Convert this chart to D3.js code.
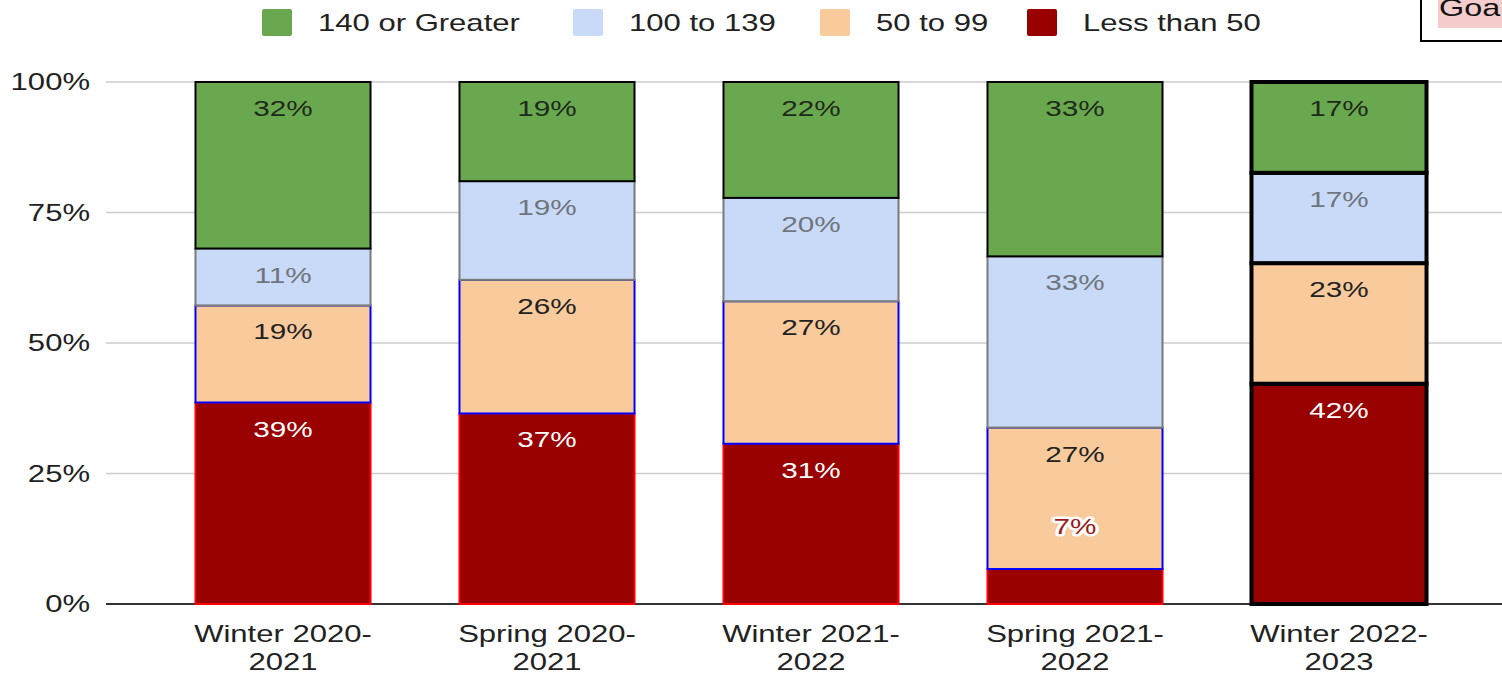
<!DOCTYPE html>
<html lang="en">
<head>
<meta charset="utf-8">
<script src="https://d3js.org/d3.v7.min.js"></script>
<style>
  body { margin: 0; background: #fff; }
  text { font-family: "Liberation Sans", Arial, sans-serif; }
</style>
</head>
<body>
<script>
// data (percent of each term)
var terms = [["Winter 2020-", "2021"], ["Spring 2020-", "2021"], ["Winter 2021-", "2022"],
             ["Spring 2021-", "2022"], ["Winter 2022-", "2023"]];
var seriesNames = ["Less than 50", "50 to 99", "100 to 139", "140 or Greater"];
var lessThan50 = [38.6, 36.5, 30.7, 6.7, 42.2];
var from50to99 = [18.6, 25.6, 27.3, 27.1, 23.1];
var from100to139 = [10.9, 18.9, 19.8, 32.8, 17.3];
var over140 = [31.9, 19.0, 22.2, 33.4, 17.4];
var yTicks = [0, 25, 50, 75, 100];

var fills = ["#990000", "#f9cb9c", "#c9daf8", "#6aa84f"];
var strokes = ["#ff0000", "#0000ff", "#7a7a7a", "#000000"];
var labelColors = ["#ffffff", "#222222", "#6f757c", "#1e2a1a"];

var W = 1502, H = 674;
var SX = 1.35; // the source picture is stretched sideways
var svg = d3.select("body").append("svg").attr("width", W).attr("height", H);

// text drawn at (x, y) and widened by SX around its anchor
function addText(parent, x, y) {
  return parent.append("text")
    .attr("transform", "translate(" + x + "," + y + ") scale(" + SX + ",1)");
}

var x = d3.scaleBand().domain(d3.range(terms.length)).range([151, 1471]).paddingInner(0.337).paddingOuter(0.1685);
var y = d3.scaleLinear().domain([0, 100]).range([604, 82]);

// grid
svg.append("g").selectAll("line").data(yTicks).enter().append("line")
    .attr("x1", 106).attr("x2", W)
    .attr("y1", function(d) { return y(d); }).attr("y2", function(d) { return y(d); })
    .attr("stroke", function(d) { return d === 0 ? "#333" : "#cccccc"; })
    .attr("stroke-width", function(d) { return d === 0 ? 2 : 1.5; });

var yAxis = svg.append("g");
yTicks.forEach(function(d) {
  addText(yAxis, 90, y(d))
    .attr("dy", "0.35em").attr("text-anchor", "end")
    .attr("font-size", 23).attr("fill", "#222")
    .text(d + "%");
});

// stacked bars
var rows = terms.map(function(t, i) {
  return {i: i, vals: [lessThan50[i], from50to99[i], from100to139[i], over140[i]]};
});
var stack = d3.stack().keys([0, 1, 2, 3]).value(function(d, k) { return d.vals[k]; });
var layers = stack(rows);

var bars = svg.append("g");
layers.forEach(function(layer, k) {
  layer.forEach(function(seg, i) {
    var last = i === terms.length - 1;
    bars.append("rect")
      .attr("x", x(i)).attr("width", x.bandwidth())
      .attr("y", y(seg[1])).attr("height", y(seg[0]) - y(seg[1]))
      .attr("fill", fills[k])
      .attr("stroke", last ? "#000" : strokes[k])
      .attr("stroke-width", last ? 4 : 2);
  });
});

// value labels
var labels = svg.append("g");
layers.forEach(function(layer, k) {
  layer.forEach(function(seg, i) {
    var h = y(seg[0]) - y(seg[1]);
    var txt = Math.round(seg[1] - seg[0]) + "%";
    var cx = x(i) + x.bandwidth() / 2;
    if (h < 40) {
      addText(labels, cx, y(seg[1]) - 35)
        .attr("text-anchor", "middle").attr("font-size", 22)
        .attr("fill", "#9b1b1b").attr("stroke", "#fff").attr("stroke-width", 5)
        .attr("stroke-linejoin", "round").attr("paint-order", "stroke")
        .text(txt);
    } else {
      addText(labels, cx, y(seg[1]) + 34)
        .attr("text-anchor", "middle").attr("font-size", 22)
        .attr("fill", labelColors[k])
        .text(txt);
    }
  });
});

// category labels
var cats = svg.append("g");
terms.forEach(function(t, i) {
  var cx = x(i) + x.bandwidth() / 2;
  addText(cats, cx, 642).attr("text-anchor", "middle").attr("font-size", 23).attr("fill", "#222").text(t[0]);
  addText(cats, cx, 670).attr("text-anchor", "middle").attr("font-size", 23).attr("fill", "#222").text(t[1]);
});

// legend
var legendOrder = [3, 2, 1, 0];
var legendX = [262, 573, 820, 1027];
var legend = svg.append("g");
legendOrder.forEach(function(k, j) {
  legend.append("rect").attr("x", legendX[j]).attr("y", 9)
    .attr("width", 30).attr("height", 27).attr("rx", 2).attr("fill", fills[k]);
  addText(legend, legendX[j] + 56, 23).attr("dy", "0.35em")
    .attr("font-size", 23).attr("fill", "#222").text(seriesNames[k]);
});

// goal box, cut off at the top right
var goal = svg.append("g");
goal.append("rect").attr("x", 1421).attr("y", -10).attr("width", 100).attr("height", 51)
    .attr("fill", "#fff").attr("stroke", "#000").attr("stroke-width", 2);
goal.append("rect").attr("x", 1438).attr("y", -10).attr("width", 70).attr("height", 38).attr("fill", "#f4cccc");
addText(goal, 1439, 16).attr("font-size", 24).attr("fill", "#111").text("Goal");
</script>
</body>
</html>
